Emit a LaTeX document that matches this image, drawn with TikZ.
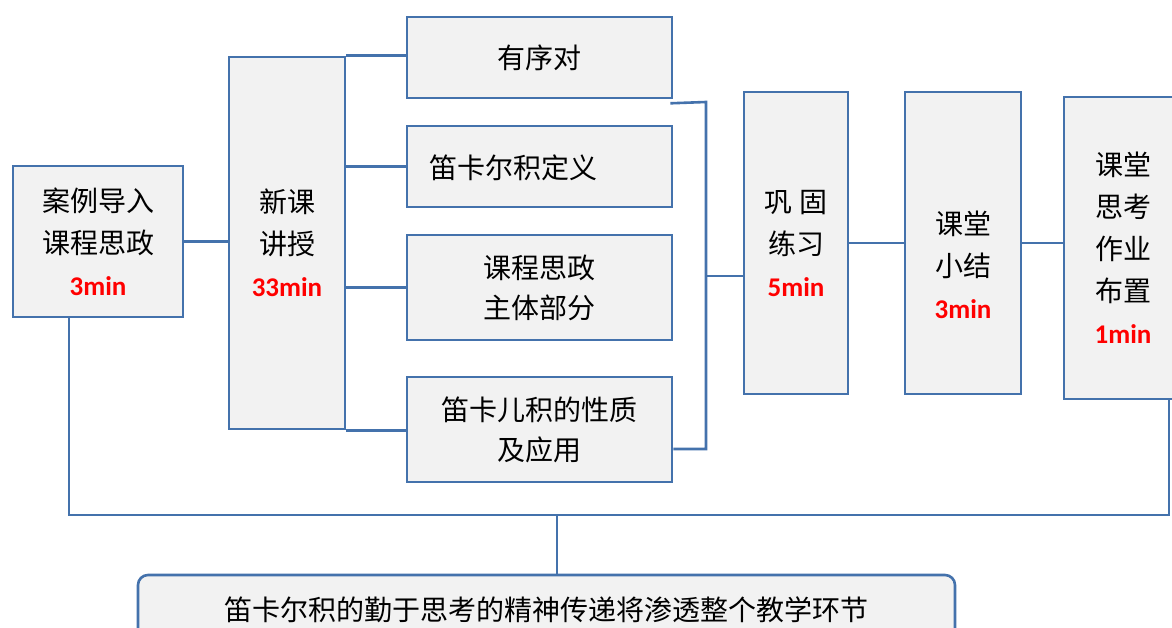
\documentclass[tikz,border=0pt]{standalone}
\usepackage{fontspec}
\newfontfamily\cjk{Noto Sans CJK SC}
\newfontfamily\minfont{Carlito}
\definecolor{edge}{RGB}{68,114,172}
\definecolor{boxfill}{RGB}{242,242,242}
\definecolor{minred}{RGB}{255,0,0}
\newcommand{\mn}[1]{{\minfont\bfseries\fontsize{27}{42}\selectfont\color{minred}#1}}
\begin{document}
\begin{tikzpicture}[x=1pt,y=-1pt,
  box/.style={draw=edge,line width=2.6pt,fill=boxfill,inner sep=0pt,align=center,
    font=\cjk\fontsize{28}{42}\selectfont},
  txt/.style={inner sep=0pt,align=center,font=\cjk\fontsize{28}{42}\selectfont},
  conn/.style={draw=edge,line width=2.6pt}]
\useasboundingbox (0,0) rectangle (1172,628);
% boxes
\node[box,minimum width=170pt,minimum height=151pt] (A) at (98,241.5) {案例导入\\课程思政\\\mn{3min}};
\node[box,minimum width=116pt,minimum height=372pt] (B) at (287,243) {新课\\讲授\\\mn{33min}};
\node[box,minimum width=265pt,minimum height=81pt] (S1) at (539.5,57.5) {有序对};
\node[box,minimum width=265pt,minimum height=81pt] (S2) at (539.5,166.5) {};
\node[txt,anchor=west] (S2t) at (429,168) {笛卡尔积定义};
\node[box,minimum width=265pt,minimum height=105pt,font=\cjk\fontsize{28}{40}\selectfont] (S3) at (539.5,287.5) {课程思政\\主体部分};
\node[box,minimum width=265pt,minimum height=105pt,font=\cjk\fontsize{28}{40}\selectfont] (S4) at (539.5,429.5) {笛卡儿积的性质\\及应用};
\node[box,minimum width=104pt,minimum height=302pt] (C) at (796,243) {巩 固\\练习\\\mn{5min}};
\node[box,minimum width=116pt,minimum height=302pt] (D) at (963,243) {};
\node[txt] (Dt) at (963,265) {课堂\\小结\\\mn{3min}};
\node[box,minimum width=118pt,minimum height=302pt] (E) at (1123,248) {课堂\\思考\\作业\\布置\\\mn{1min}};
\node[box,rounded corners=10pt,minimum width=817pt,minimum height=70pt,font=\cjk\fontsize{28}{42}\selectfont] (F) at (546.5,610) {笛卡尔积的勤于思考的精神传递将渗透整个教学环节};
% coordinates
\coordinate (bt) at (706,102);
\coordinate (bb) at (706,449);
\coordinate (bm) at (706,276);
\coordinate (bl) at (69,515);
\coordinate (brr) at (1169,515);
\coordinate (bc) at (557,515);
% connectors
\draw[conn] (A.east) -- (A.east -| B.west);
\draw[conn] (B.north east) -- (B.north east -| S1.west);
\draw[conn] (B.east |- S2.west) -- (S2.west);
\draw[conn] (B.east |- S3.west) -- (S3.west);
\draw[conn] (B.south east) -- (B.south east -| S4.west);
\draw[conn] ([xshift=-3pt,yshift=-4pt]S1.south east) -- (bt) -- (bb) -- (bb -| S4.east);
\draw[conn] (bm) -- (bm -| C.west);
\draw[conn] (C.east) -- (D.west);
\draw[conn] (D.east) -- (D.east -| E.west);
\draw[conn] (bl |- A.south) -- (bl) -- (brr) -- (brr |- E.south);
\draw[conn] (bc) -- (bc |- F.north);
\end{tikzpicture}
\end{document}
